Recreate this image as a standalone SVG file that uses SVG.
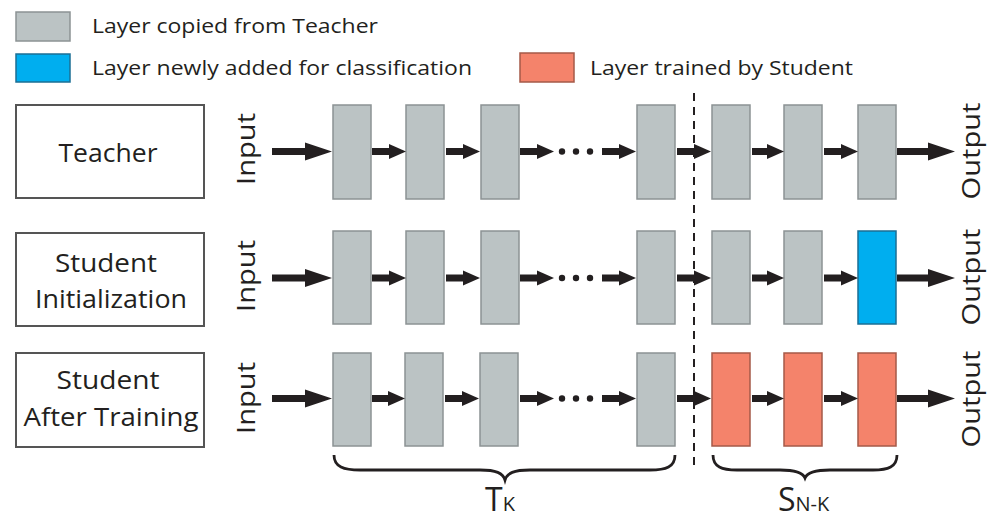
<svg xmlns="http://www.w3.org/2000/svg" width="990" height="522" viewBox="0 0 990 522">
<style>
text{font-family:"Open Sans","Noto Sans","Liberation Sans",sans-serif;fill:#231f20}
.lg{font-size:20.5px}
.nm{font-size:25px;text-anchor:middle}
.io{font-size:26px;text-anchor:middle}
.box{fill:#fff;stroke:#555;stroke-width:2}
.g{fill:#bbc3c4;stroke:#8c9394;stroke-width:1.5}
.b{fill:#00aeef;stroke:#1b6f95;stroke-width:1.5}
.o{fill:#f4836b;stroke:#a55a48;stroke-width:1.5}
.big{stroke:#231f20;stroke-width:7;marker-end:url(#hb)}
.sm{stroke:#231f20;stroke-width:7;marker-end:url(#hs)}
.brace{fill:none;stroke:#231f20;stroke-width:2.8}
</style>
<defs>
<marker id="hb" markerUnits="userSpaceOnUse" markerWidth="28" markerHeight="20" refX="0" refY="10" orient="auto"><path d="M0,1 L27,10 L0,19 z" fill="#231f20"/></marker>
<marker id="hs" markerUnits="userSpaceOnUse" markerWidth="18" markerHeight="16" refX="0" refY="8" orient="auto"><path d="M0,0.5 L17,8 L0,15.5 z" fill="#231f20"/></marker>
</defs>
<rect width="990" height="522" fill="#fff"/>
<g id="legend">
<rect class="g" x="16" y="12" width="54" height="29"/>
<text class="lg" x="92" y="33" textLength="286" lengthAdjust="spacingAndGlyphs">Layer copied from Teacher</text>
<rect class="b" x="16" y="54" width="54" height="28"/>
<text class="lg" x="92" y="75" textLength="380" lengthAdjust="spacingAndGlyphs">Layer newly added for classification</text>
<rect class="o" x="520" y="53" width="54" height="29"/>
<text class="lg" x="590" y="75" textLength="263" lengthAdjust="spacingAndGlyphs">Layer trained by Student</text>
</g>
<g id="teacher-label"><rect class="box" x="16" y="105" width="188" height="93"/><text class="nm" x="108" y="162" textLength="99" lengthAdjust="spacingAndGlyphs">Teacher</text></g>
<g id="student-init-label"><rect class="box" x="16" y="233" width="188" height="93"/><text class="nm" x="106" y="272" textLength="102" lengthAdjust="spacingAndGlyphs">Student</text><text class="nm" x="111" y="308" textLength="152" lengthAdjust="spacingAndGlyphs">Initialization</text></g>
<g id="student-trained-label"><rect class="box" x="16" y="353" width="188" height="94"/><text class="nm" x="108" y="389" textLength="103" lengthAdjust="spacingAndGlyphs">Student</text><text class="nm" x="111" y="426" textLength="175" lengthAdjust="spacingAndGlyphs">After Training</text></g>
<g id="io-labels">
<text class="io" transform="translate(255,149) rotate(-90)" textLength="72" lengthAdjust="spacingAndGlyphs">Input</text>
<text class="io" transform="translate(255,276) rotate(-90)" textLength="72" lengthAdjust="spacingAndGlyphs">Input</text>
<text class="io" transform="translate(255,398) rotate(-90)" textLength="72" lengthAdjust="spacingAndGlyphs">Input</text>
<text class="io" transform="translate(980,151) rotate(-90)" textLength="97" lengthAdjust="spacingAndGlyphs">Output</text>
<text class="io" transform="translate(980,277) rotate(-90)" textLength="97" lengthAdjust="spacingAndGlyphs">Output</text>
<text class="io" transform="translate(980,399) rotate(-90)" textLength="97" lengthAdjust="spacingAndGlyphs">Output</text>
</g>
<g id="teacher-layers">
<rect class="g" x="333" y="105" width="38" height="94"/>
<rect class="g" x="406" y="105" width="38" height="94"/>
<rect class="g" x="481" y="105" width="38" height="94"/>
<rect class="g" x="637" y="105" width="38" height="94"/>
<rect class="g" x="712" y="105" width="38" height="94"/>
<rect class="g" x="784" y="105" width="38" height="94"/>
<rect class="g" x="858" y="105" width="38" height="94"/>
</g>
<g id="student-init-layers">
<rect class="g" x="333" y="231" width="38" height="93"/>
<rect class="g" x="406" y="231" width="38" height="93"/>
<rect class="g" x="481" y="231" width="38" height="93"/>
<rect class="g" x="637" y="231" width="38" height="93"/>
<rect class="g" x="712" y="231" width="38" height="93"/>
<rect class="g" x="784" y="231" width="38" height="93"/>
<rect class="b" x="858" y="231" width="38" height="93"/>
</g>
<g id="student-trained-layers">
<rect class="g" x="333" y="353" width="38" height="93"/>
<rect class="g" x="405" y="353" width="38" height="93"/>
<rect class="g" x="480" y="353" width="38" height="93"/>
<rect class="g" x="637" y="353" width="38" height="93"/>
<rect class="o" x="712" y="353" width="38" height="93"/>
<rect class="o" x="784" y="353" width="38" height="93"/>
<rect class="o" x="858" y="353" width="38" height="93"/>
</g>
<g id="connectors">
<g transform="translate(0,151.5)">
<line class="big" x1="272" y1="0" x2="305" y2="0"/>
<line class="sm" x1="372" y1="0" x2="389" y2="0"/>
<line class="sm" x1="446" y1="0" x2="463" y2="0"/>
<line class="sm" x1="520" y1="0" x2="537" y2="0"/>
<circle cx="562" cy="0" r="3.2" fill="#231f20"/><circle cx="576" cy="0" r="3.2" fill="#231f20"/><circle cx="590" cy="0" r="3.2" fill="#231f20"/>
<line class="sm" x1="602" y1="0" x2="619" y2="0"/>
<line class="sm" x1="677" y1="0" x2="694" y2="0"/>
<line class="sm" x1="752" y1="0" x2="767" y2="0"/>
<line class="sm" x1="824" y1="0" x2="841" y2="0"/>
<line class="big" x1="897" y1="0" x2="928" y2="0"/>
</g>
<g transform="translate(0,278)">
<line class="big" x1="272" y1="0" x2="305" y2="0"/>
<line class="sm" x1="372" y1="0" x2="389" y2="0"/>
<line class="sm" x1="446" y1="0" x2="463" y2="0"/>
<line class="sm" x1="520" y1="0" x2="537" y2="0"/>
<circle cx="562" cy="0" r="3.2" fill="#231f20"/><circle cx="576" cy="0" r="3.2" fill="#231f20"/><circle cx="590" cy="0" r="3.2" fill="#231f20"/>
<line class="sm" x1="602" y1="0" x2="619" y2="0"/>
<line class="sm" x1="677" y1="0" x2="694" y2="0"/>
<line class="sm" x1="752" y1="0" x2="767" y2="0"/>
<line class="sm" x1="824" y1="0" x2="841" y2="0"/>
<line class="big" x1="897" y1="0" x2="928" y2="0"/>
</g>
<g transform="translate(0,398.5)">
<line class="big" x1="272" y1="0" x2="305" y2="0"/>
<line class="sm" x1="372" y1="0" x2="388" y2="0"/>
<line class="sm" x1="445" y1="0" x2="462" y2="0"/>
<line class="sm" x1="520" y1="0" x2="537" y2="0"/>
<circle cx="562" cy="0" r="3.2" fill="#231f20"/><circle cx="576" cy="0" r="3.2" fill="#231f20"/><circle cx="590" cy="0" r="3.2" fill="#231f20"/>
<line class="sm" x1="602" y1="0" x2="619" y2="0"/>
<line class="sm" x1="677" y1="0" x2="694" y2="0"/>
<line class="sm" x1="752" y1="0" x2="767" y2="0"/>
<line class="sm" x1="824" y1="0" x2="841" y2="0"/>
<line class="big" x1="897" y1="0" x2="928" y2="0"/>
</g>
</g>
<g id="divider"><line x1="694" y1="93" x2="694" y2="470" stroke="#231f20" stroke-width="2" stroke-dasharray="8,6"/></g>
<g id="brace-tk">
<path class="brace" d="M334,455 C334,467 344,470 360,470 L480,470 C496,470 503,473 505,480 C507,473 514,470 530,470 L650,470 C666,470 675,467 675,455"/>
<text x="485" y="511" style="font-size:32px">T<tspan style="font-size:20px">K</tspan></text>
</g>
<g id="brace-snk">
<path class="brace" d="M713,455 C713,467 722,470 737,470 L780,470 C797,470 803,473 805,478 C807,473 813,470 830,470 L873,470 C888,470 897,467 897,455"/>
<text x="778" y="511" style="font-size:32px">S<tspan style="font-size:20px">N-K</tspan></text>
</g>
</svg>
